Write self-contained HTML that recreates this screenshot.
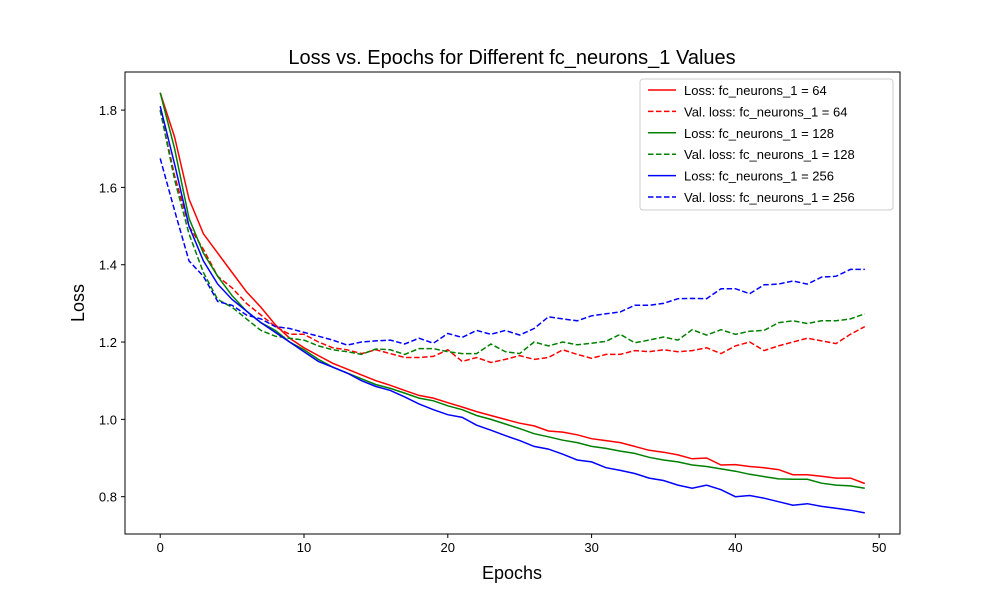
<!DOCTYPE html>
<html><head><meta charset="utf-8"><style>
body{margin:0;background:#fff;}
svg text{font-family:"Liberation Sans","DejaVu Sans",sans-serif;}
</style></head><body>
<svg id="chart" width="1000" height="600" xmlns="http://www.w3.org/2000/svg"></svg>
<script>
const epochs = Array.from({length:50},(_,i)=>i);
const loss64 = [1.845,1.73,1.57,1.48,1.43,1.38,1.33,1.29,1.245,1.21,1.185,1.165,1.145,1.13,1.115,1.1,1.088,1.075,1.062,1.055,1.043,1.032,1.02,1.01,1.0,0.99,0.983,0.97,0.967,0.96,0.95,0.945,0.94,0.93,0.92,0.915,0.908,0.898,0.9,0.882,0.883,0.878,0.875,0.87,0.857,0.857,0.853,0.848,0.848,0.834];
const val64 = [1.8,1.63,1.5,1.44,1.37,1.34,1.3,1.27,1.24,1.22,1.22,1.2,1.185,1.18,1.17,1.18,1.17,1.16,1.16,1.163,1.18,1.15,1.16,1.147,1.155,1.165,1.155,1.16,1.18,1.168,1.158,1.168,1.168,1.178,1.175,1.18,1.175,1.178,1.185,1.17,1.19,1.2,1.178,1.19,1.2,1.21,1.203,1.196,1.22,1.24];
const loss128 = [1.845,1.7,1.52,1.43,1.37,1.32,1.28,1.25,1.23,1.2,1.18,1.155,1.135,1.12,1.105,1.09,1.08,1.068,1.055,1.048,1.035,1.025,1.01,1.0,0.988,0.976,0.963,0.955,0.946,0.94,0.93,0.925,0.918,0.912,0.902,0.895,0.89,0.882,0.878,0.872,0.866,0.858,0.852,0.846,0.845,0.845,0.835,0.83,0.828,0.822];
const val128 = [1.8,1.62,1.48,1.38,1.31,1.29,1.26,1.23,1.215,1.21,1.205,1.19,1.18,1.175,1.168,1.182,1.18,1.168,1.183,1.183,1.175,1.17,1.17,1.195,1.175,1.17,1.2,1.19,1.2,1.193,1.197,1.202,1.22,1.198,1.205,1.213,1.205,1.232,1.218,1.232,1.22,1.228,1.23,1.25,1.255,1.248,1.255,1.255,1.26,1.273];
const loss256 = [1.81,1.66,1.5,1.41,1.35,1.31,1.28,1.25,1.225,1.2,1.175,1.15,1.135,1.12,1.1,1.085,1.075,1.058,1.04,1.025,1.012,1.005,0.985,0.972,0.958,0.945,0.93,0.923,0.91,0.895,0.89,0.875,0.868,0.86,0.848,0.842,0.83,0.822,0.83,0.818,0.8,0.803,0.796,0.787,0.778,0.782,0.775,0.77,0.765,0.758];
const val256 = [1.675,1.54,1.41,1.37,1.305,1.295,1.27,1.26,1.24,1.235,1.225,1.215,1.205,1.192,1.2,1.203,1.205,1.195,1.21,1.197,1.222,1.212,1.23,1.22,1.23,1.218,1.235,1.265,1.26,1.255,1.268,1.273,1.278,1.295,1.295,1.3,1.312,1.313,1.312,1.338,1.338,1.325,1.348,1.35,1.358,1.35,1.368,1.37,1.388,1.388];
const xTicks = [0,10,20,30,40,50];
const yTicks = [0.8,1.0,1.2,1.4,1.6,1.8];
const seriesNames = ["Loss: fc_neurons_1 = 64","Val. loss: fc_neurons_1 = 64","Loss: fc_neurons_1 = 128","Val. loss: fc_neurons_1 = 128","Loss: fc_neurons_1 = 256","Val. loss: fc_neurons_1 = 256"];

const L=125,R=900,T=72,B=534;
const xMin=-2.45,xMax=51.45,yMin=0.7035,yMax=1.8985;
const xs=v=>L+(v-xMin)/(xMax-xMin)*(R-L);
const ys=v=>B-(v-yMin)/(yMax-yMin)*(B-T);
const NS="http://www.w3.org/2000/svg";
const svg=document.getElementById('chart');
function mk(tag,attrs,parent){const e=document.createElementNS(NS,tag);for(const k in attrs)e.setAttribute(k,attrs[k]);(parent||svg).appendChild(e);return e;}

const frame=mk('rect',{x:L,y:T,width:R-L,height:B-T,fill:'none',stroke:'#000','stroke-width':1});



xTicks.forEach(t=>{
  const x=xs(t);
  const l=mk('line',{x1:x,x2:x,y1:B,y2:B+4,stroke:'#000'});
  
  
  const tx=mk('text',{x:x,y:B+18,'font-size':13,'text-anchor':'middle'});
  tx.textContent=t;
  
  
});
yTicks.forEach(t=>{
  const y=ys(t);
  const l=mk('line',{x1:L-4,x2:L,y1:y,y2:y,stroke:'#000'});
  
  
  const tx=mk('text',{x:L-8,y:y+5,'font-size':13,'text-anchor':'end'});
  tx.textContent=t.toFixed(1);
  
  
});

const series=[[loss64,'red',false],[val64,'red',true],[loss128,'green',false],[val128,'green',true],[loss256,'blue',false],[val256,'blue',true]];
series.forEach((s,i)=>{
  const d=s[0].map((v,j)=>(j?'L':'M')+xs(epochs[j]).toFixed(1)+' '+ys(v).toFixed(1)).join(' ');
  const p=mk('path',{d:d,fill:'none',stroke:s[1],'stroke-width':1.5});
  if(s[2])p.setAttribute('stroke-dasharray','5.5,2.5');
  
  
});

const t=mk('text',{x:512,y:64,'font-size':20,'text-anchor':'middle'});
t.textContent='Loss vs. Epochs for Different fc_neurons_1 Values';


const xl=mk('text',{x:512,y:579,'font-size':18,'text-anchor':'middle'});
xl.textContent='Epochs';


const yl=mk('text',{x:84,y:303,'font-size':18,'text-anchor':'middle',transform:'rotate(-90 84 303)'});
yl.textContent='Loss';



const lg=mk('rect',{x:640,y:79,width:253,height:131,rx:3,fill:'#fff',stroke:'#ccc','fill-opacity':0.8});


series.forEach((s,i)=>{
  const y=90+i*21.4;
  const l=mk('line',{x1:648,x2:676,y1:y,y2:y,stroke:s[1],'stroke-width':1.5});
  if(s[2])l.setAttribute('stroke-dasharray','5.5,2.5');
  
  
  const tx=mk('text',{x:684,y:y+5,'font-size':13});
  tx.textContent=seriesNames[i];
  
  
});
</script>
</body></html>
